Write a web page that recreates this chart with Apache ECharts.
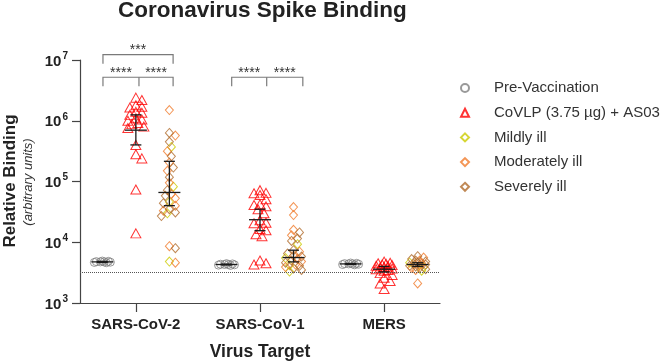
<!DOCTYPE html>
<html>
<head>
<meta charset="utf-8">
<script src="https://cdn.jsdelivr.net/npm/echarts@6/dist/echarts.min.js"></script>
<style>
  html, body { margin: 0; padding: 0; background: #fff; }
  #chart { width: 664px; height: 361px; }
</style>
</head>
<body>
<div id="chart"></div>
<script>
var categories = ['SARS-CoV-2', 'SARS-CoV-1', 'MERS'];
var legendNames = ['Pre-Vaccination', 'CoVLP (3.75 µg) + AS03', 'Mildly ill', 'Moderately ill', 'Severely ill'];
var colors = ['#808080', '#ff0000', '#cccc00', '#f07a2a', '#b06c2c'];

// one list per virus target: SARS-CoV-2, SARS-CoV-1, MERS
var preVaccination = [
  [4600, 4650, 4700, 4750, 4750, 4800, 4850, 4900],
  [4150, 4200, 4250, 4300, 4300, 4350, 4400, 4450],
  [4250, 4300, 4350, 4400, 4400, 4450, 4500, 4550]
];
var covlp = [
  [2.4e6, 2.2e6, 1.8e6, 1.7e6, 1.65e6, 1.4e6, 1.35e6, 1.25e6, 1.1e6, 1.05e6, 1.0e6, 9.2e5, 8.8e5, 8.0e5, 7.6e5, 4.0e5, 2.8e5, 2.4e5, 7.4e4, 1.4e4],
  [7.2e4, 6.5e4, 6.4e4, 6.0e4, 5.1e4, 4.2e4, 4.1e4, 3.9e4, 3.5e4, 3.0e4, 2.3e4, 2.1e4, 2.05e4, 1.65e4, 1.58e4, 1.35e4, 1.26e4, 5.0e3, 4.5e3, 4.3e3],
  [4.8e3, 4.6e3, 4.5e3, 4.4e3, 4.3e3, 4.2e3, 4.1e3, 4.0e3, 3.9e3, 3.8e3, 3.7e3, 3.6e3, 3.5e3, 3.4e3, 3.1e3, 2.9e3, 2.6e3, 2.3e3, 2.1e3, 1.7e3]
];
var mildlyIll = [
  [3.7e5, 8.2e4, 4.6e4, 3.0e4, 4.8e3],
  [9.3e3, 5.5e3, 4.2e3, 3.3e3],
  [4.6e3, 3.9e3, 3.4e3]
];
var moderatelyIll = [
  [1.5e6, 5.7e5, 3.15e5, 2.05e5, 1.5e5, 9.5e4, 6.2e4, 5.3e4, 4.0e4, 3.3e4, 8.6e3, 4.6e3],
  [3.8e4, 2.8e4, 1.6e4, 1.3e4, 7.0e3, 6.0e3, 5.3e3, 4.8e3, 4.3e3, 3.9e3],
  [5.6e3, 5.0e3, 4.5e3, 4.2e3, 3.8e3, 3.5e3, 2.1e3]
];
var severelyIll = [
  [6.3e5, 4.5e5, 2.6e5, 1.7e5, 1.18e5, 7.2e4, 5.8e4, 4.4e4, 3.5e4, 3.1e4, 2.7e4, 8.0e3],
  [1.45e4, 1.15e4, 1.05e4, 7.4e3, 6.5e3, 5.8e3, 5.0e3, 4.6e3, 4.1e3, 3.7e3, 3.5e3],
  [5.9e3, 5.3e3, 5.0e3, 4.8e3, 4.6e3, 4.4e3, 4.3e3, 4.1e3, 4.0e3, 3.8e3, 3.6e3]
];

// [centre, lower, upper] per virus target
var preStats = [[4750, 4650, 4850], [4300, 4230, 4370], [4400, 4320, 4480]];
var covlpStats = [[7.0e5, 4.0e5, 1.25e6], [2.35e4, 1.55e4, 3.5e4], [3.6e3, 3.25e3, 4.0e3]];
var illStats = [[6.6e4, 4.0e4, 2.15e5], [5.6e3, 4.75e3, 7.4e3], [4.3e3, 4.0e3, 4.6e3]];

var threshold = 3200;

// significance brackets
var brackets = [
  { x1: -0.265, x2: 0.30, xm: 0.025, y: 5.2e6, drop: 3.7e6, text: '****' },
  { x1: -0.265, x2: 0.30, xm: null, y: 1.23e7, drop: 8.7e6, text: '***' },
  { x1: 0.772, x2: 1.345, xm: 1.054, y: 5.2e6, drop: 3.7e6, text: '****' }
];

var FONT = '"Liberation Sans", Arial, sans-serif';
var GRID = { left: 80, right: 224, top: 60, bottom: 58, containLabel: false, outerBoundsMode: 'none' };
var X_MIN = -0.45, X_MAX = 2.45;
var colOffset = [-0.27, 0, 0.27];
var pxPerUnit = (664 - GRID.left - GRID.right) / (X_MAX - X_MIN);
var pxPerDecade = (361 - GRID.top - GRID.bottom) / 4;

// simple beeswarm, capped in width, so points in a column spread a little
function swarm(values, minDist, step, maxHalf) {
  var order = values.map(function (v, i) { return i; })
    .sort(function (a, b) { return values[b] - values[a]; });
  var placed = [];
  var out = new Array(values.length);
  order.forEach(function (i) {
    var y = Math.log10(values[i]) * pxPerDecade;
    var best = 0, bestD = -1;
    for (var k = 0; ; k++) {
      var dx = k === 0 ? 0 : (k % 2 ? 1 : -1) * Math.ceil(k / 2) * step;
      if (Math.abs(dx) > maxHalf) break;
      var dmin = Infinity;
      placed.forEach(function (p) {
        var a = p.x - dx, b = p.y - y;
        dmin = Math.min(dmin, Math.sqrt(a * a + b * b));
      });
      if (dmin >= minDist) { best = dx; bestD = dmin; break; }
      if (dmin > bestD) { bestD = dmin; best = dx; }
    }
    placed.push({ x: best, y: y });
    out[i] = best / pxPerUnit;
  });
  return out;
}

var preData = [], covlpData = [], illData = [[], [], []];
for (var g = 0; g < 3; g++) {
  var o = swarm(preVaccination[g], 5, 2, 8);
  preVaccination[g].forEach(function (v, j) { preData.push([g + colOffset[0] + o[j], v]); });

  o = swarm(covlp[g], 6, 2, 9);
  covlp[g].forEach(function (v, j) { covlpData.push([g + colOffset[1] + o[j], v]); });

  var combined = [], tag = [];
  [mildlyIll, moderatelyIll, severelyIll].forEach(function (arr, s) {
    arr[g].forEach(function (v) { combined.push(v); tag.push(s); });
  });
  o = swarm(combined, 5.5, 2, 9);
  combined.forEach(function (v, j) { illData[tag[j]].push([g + colOffset[2] + o[j], v]); });
}

var errData = [];
[preStats, covlpStats, illStats].forEach(function (st, c) {
  st.forEach(function (s, g) { errData.push([g + colOffset[c], s[0], s[1], s[2]]); });
});

function hollow(name, symbol, size, color, data) {
  return {
    name: name,
    type: 'scatter',
    symbol: symbol,
    symbolSize: size,
    itemStyle: { color: 'rgba(0,0,0,0)', borderColor: color, borderWidth: 1 },
    emphasis: { disabled: true },
    data: data,
    z: 2
  };
}

var chart = echarts.init(document.getElementById('chart'));

var series = [
  hollow(legendNames[0], 'circle', 8, colors[0], preData),
  hollow(legendNames[1], 'triangle', [10, 9], colors[1], covlpData),
  hollow(legendNames[2], 'diamond', [8, 9], colors[2], illData[0]),
  hollow(legendNames[3], 'diamond', [8, 9], colors[3], illData[1]),
  hollow(legendNames[4], 'diamond', [8, 9], colors[4], illData[2])
];
series[0].markLine = {
  silent: true,
  symbol: 'none',
  label: { show: false },
  lineStyle: { type: 'dotted', color: '#555', width: 1 },
  data: [{ yAxis: threshold }]
};

series.push({
  type: 'custom',
  z: 5,
  silent: true,
  data: errData,
  encode: { x: 0, y: [1, 2, 3] },
  renderItem: function (params, api) {
    var x = api.value(0);
    var m = api.coord([x, api.value(1)]);
    var lo = api.coord([x, api.value(2)]);
    var hi = api.coord([x, api.value(3)]);
    var st = { stroke: '#1a1a1a', lineWidth: 1.3 };
    function seg(x1, y1, x2, y2) {
      return { type: 'line', shape: { x1: x1, y1: y1, x2: x2, y2: y2 }, style: st };
    }
    return {
      type: 'group',
      children: [
        seg(m[0], lo[1], m[0], hi[1]),
        seg(m[0] - 5.5, lo[1], m[0] + 5.5, lo[1]),
        seg(m[0] - 5.5, hi[1], m[0] + 5.5, hi[1]),
        seg(m[0] - 11, m[1], m[0] + 11, m[1])
      ]
    };
  }
});

series.push({
  type: 'custom',
  z: 5,
  silent: true,
  clip: false,
  data: brackets.map(function (b) { return [b.x1, b.y]; }),
  renderItem: function (params, api) {
    var b = brackets[params.dataIndex];
    var p1 = api.coord([b.x1, b.y]), p2 = api.coord([b.x2, b.y]);
    var d1 = api.coord([b.x1, b.drop]);
    var st = { stroke: '#7a7a7a', lineWidth: 1.2, fill: null };
    var kids = [{
      type: 'polyline',
      shape: { points: [[p1[0], d1[1]], p1, p2, [p2[0], d1[1]]] },
      style: st
    }];
    var txt = { fill: '#333', font: '14px ' + FONT, textAlign: 'center', textVerticalAlign: 'bottom' };
    if (b.xm != null) {
      var pm = api.coord([b.xm, b.y]);
      kids.push({ type: 'line', shape: { x1: pm[0], y1: pm[1], x2: pm[0], y2: d1[1] }, style: st });
      kids.push({ type: 'text', x: (p1[0] + pm[0]) / 2, y: p1[1] + 3, style: Object.assign({ text: b.text }, txt) });
      kids.push({ type: 'text', x: (pm[0] + p2[0]) / 2, y: p1[1] + 3, style: Object.assign({ text: b.text }, txt) });
    } else {
      kids.push({ type: 'text', x: (p1[0] + p2[0]) / 2, y: p1[1] + 3, style: Object.assign({ text: b.text }, txt) });
    }
    return { type: 'group', children: kids };
  }
});

chart.setOption({
  animation: false,
  backgroundColor: '#fff',
  title: {
    text: 'Coronavirus Spike Binding',
    left: 113,
    top: -6,
    textStyle: { fontFamily: FONT, fontSize: 22.5, fontWeight: 'bold', color: '#222' }
  },
  legend: {
    orient: 'vertical',
    left: 455,
    top: 75,
    itemWidth: 8,
    itemHeight: 8,
    itemGap: 8.7,
    data: legendNames,
    textStyle: { fontFamily: FONT, fontSize: 15, color: '#333', lineHeight: 16, padding: [0, 0, 0, 20] }
  },
  grid: GRID,
  xAxis: {
    type: 'value',
    min: X_MIN,
    max: X_MAX,
    name: 'Virus Target',
    nameLocation: 'middle',
    nameGap: 40,
    nameTextStyle: { fontFamily: FONT, fontSize: 17.5, fontWeight: 'bold', color: '#222' },
    splitLine: { show: false },
    axisLine: { onZero: false, lineStyle: { color: '#444', width: 1.2 } },
    axisTick: { customValues: [0, 1, 2], length: 9, lineStyle: { color: '#444', width: 1.2 } },
    axisLabel: {
      customValues: [0, 1, 2],
      margin: 14,
      formatter: function (v) { return categories[Math.round(v)]; },
      fontFamily: FONT, fontSize: 15, fontWeight: 'bold', color: '#222'
    }
  },
  yAxis: {
    type: 'log',
    logBase: 10,
    min: 1e3,
    max: 1e7,
    splitLine: { show: false },
    minorTick: { show: false },
    axisLine: { show: true, onZero: false, lineStyle: { color: '#444', width: 1.2 } },
    axisTick: { show: true, length: 8, lineStyle: { color: '#444', width: 1.2 } },
    axisLabel: {
      margin: 12,
      formatter: function (v) {
        return '{b|10}{s|' + Math.round(Math.log10(v)) + '}';
      },
      rich: {
        b: { fontFamily: FONT, fontSize: 15, fontWeight: 'bold', color: '#222', lineHeight: 18, verticalAlign: 'bottom' },
        s: { fontFamily: FONT, fontSize: 10, fontWeight: 'bold', color: '#222', lineHeight: 18, verticalAlign: 'top', padding: [0, 0, 6, 1] }
      }
    }
  },
  graphic: [
    {
      type: 'text', x: 10, y: 181, rotation: Math.PI / 2,
      style: { text: 'Relative Binding', font: 'bold 17px ' + FONT, fill: '#222', textAlign: 'center', textVerticalAlign: 'middle' }
    },
    {
      type: 'text', x: 28, y: 182, rotation: Math.PI / 2,
      style: { text: '(arbitrary units)', font: 'italic 13px ' + FONT, fill: '#333', textAlign: 'center', textVerticalAlign: 'middle' }
    }
  ],
  series: series
});
</script>
</body>
</html>
